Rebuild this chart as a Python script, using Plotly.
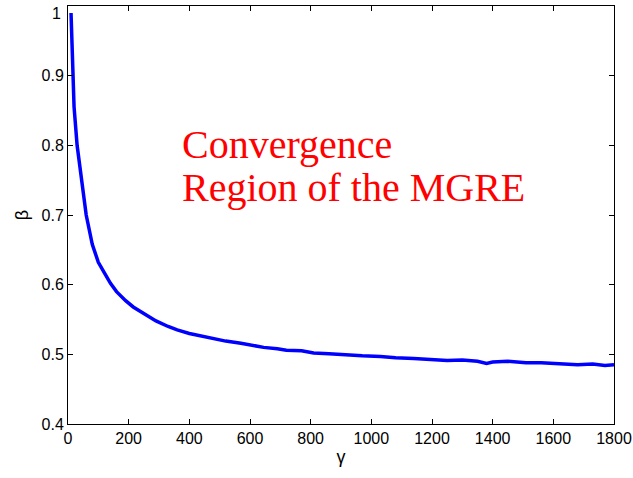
import plotly.graph_objects as go

gamma = [10, 15, 20, 30, 45, 60, 80, 100, 120, 140, 160, 190, 215, 250, 290, 330, 360,
         400, 440, 480, 520, 570, 610, 645, 690, 720, 770, 810, 860, 920, 970, 1030,
         1080, 1140, 1190, 1250, 1300, 1350, 1380, 1400, 1450, 1510, 1560, 1620, 1680,
         1730, 1770, 1800]
beta = [0.99, 0.90, 0.855, 0.80, 0.745, 0.70, 0.658, 0.632, 0.617, 0.602, 0.590, 0.577,
        0.568, 0.558, 0.548, 0.540, 0.535, 0.530, 0.526, 0.522, 0.519, 0.516, 0.513,
        0.510, 0.508, 0.506, 0.505, 0.502, 0.501, 0.499, 0.498, 0.497, 0.495, 0.494,
        0.493, 0.491, 0.492, 0.490, 0.487, 0.489, 0.490, 0.488, 0.488, 0.486, 0.485,
        0.486, 0.484, 0.485]

x_ticks = [0, 200, 400, 600, 800, 1000, 1200, 1400, 1600, 1800]
y_ticks = [0.4, 0.5, 0.6, 0.7, 0.8, 0.9, 1.0]
y_ticktext = ["0.4", "0.5", "0.6", "0.7", "0.8", "0.9", ""]
y_top_label = "1"

fig = go.Figure()
fig.add_trace(go.Scatter(x=gamma, y=beta, mode="lines",
                         line=dict(color="rgb(0,0,255)", width=3.5),
                         showlegend=False, hoverinfo="skip"))

axis_common = dict(showline=True, linecolor="black", linewidth=1, mirror="ticks",
                   ticks="inside", ticklen=5, tickcolor="black", showgrid=False,
                   zeroline=False, ticklabeloverflow="allow", automargin=False,
                   tickfont=dict(family="Liberation Sans, Arial", size=16, color="black"))

fig.update_xaxes(range=[0, 1800], tickvals=x_ticks,
                 title=dict(text="γ", font=dict(family="Liberation Sans, Arial", size=18, color="black"),
                            standoff=4),
                 **axis_common)
fig.update_yaxes(range=[0.4, 1.0], tickvals=y_ticks, ticktext=y_ticktext,
                 title=dict(text="β", font=dict(family="Liberation Sans, Arial", size=18, color="black"),
                            standoff=8),
                 **axis_common)

# top y tick label, nudged down slightly so it stays inside the page
fig.add_annotation(x=0, y=y_ticks[-1], xref="paper", yref="y", text=y_top_label,
                   showarrow=False, xanchor="right", yanchor="top", xshift=-5, yshift=3,
                   font=dict(family="Liberation Sans, Arial", size=16, color="black"))

fig.add_annotation(x=370, y=0.8005, xref="x", yref="y", text="Convergence",
                   showarrow=False, xanchor="left", yanchor="middle",
                   font=dict(family="Liberation Serif, Times New Roman", size=40, color="red"))
fig.add_annotation(x=370, y=0.7388, xref="x", yref="y", text="Region of the MGRE",
                   showarrow=False, xanchor="left", yanchor="middle",
                   font=dict(family="Liberation Serif, Times New Roman", size=40, color="red"))

fig.update_layout(width=633, height=478, margin=dict(l=68, r=19, t=6, b=54),
                  paper_bgcolor="white", plot_bgcolor="white")

fig.write_html("out.html")
